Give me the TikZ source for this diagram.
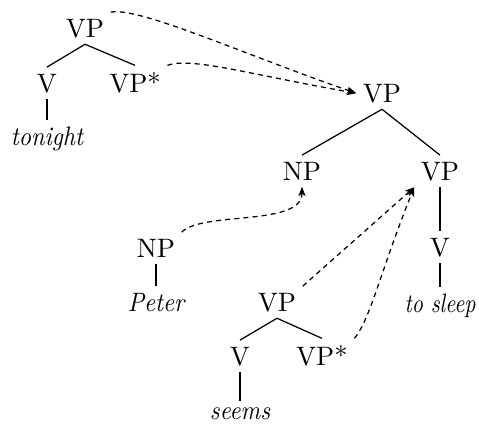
\documentclass[tikz,border=0pt]{standalone}
\usepackage{graphicx}
\usetikzlibrary{arrows.meta}
\tikzset{
  lab/.style={inner sep=2.2pt, anchor=base, font=\fontsize{9.6pt}{12pt}\selectfont},
  leaf/.style={lab, font=\fontsize{9.6pt}{12pt}\selectfont\itshape},
  edge/.style={line width=0.45pt},
  adj/.style={line width=0.45pt, dash pattern=on 1.8pt off 1.5pt,
    -{Stealth[length=3.4pt,width=2.6pt,inset=0.9pt]}}
}
\begin{document}
\begin{tikzpicture}[x=0.36pt,y=0.36pt]
\useasboundingbox (0,0) rectangle (479,-426);
% top-left auxiliary tree
\node[lab] (vpA) at (85,-37) {VP};
\node[lab] (vA) at (47,-92) {V};
\node[lab] (vpsA) at (135,-92) {VP*};
\node[leaf] (tonight) at (47,-145) {\scalebox{0.9}[1]{tonight}};
% main tree
\node[lab] (root) at (382,-102) {VP};
\node[lab] (np2) at (302,-180) {NP};
\node[lab] (vp2) at (440,-180) {VP};
\node[lab] (v3) at (440,-256) {V};
\node[leaf] (tosleep) at (440,-312) {\scalebox{0.82}[1]{to sleep}};
% NP tree
\node[lab] (np3) at (156,-257) {NP};
\node[leaf] (peter) at (156,-311) {\scalebox{0.9}[1]{Peter}};
% lower auxiliary tree
\node[lab] (vp4) at (277,-311) {VP};
\node[lab] (v4) at (240,-365) {V};
\node[lab] (vps4) at (322,-365) {VP*};
\node[leaf] (seems) at (240,-419) {\scalebox{0.9}[1]{seems}};
% tree edges
\draw[edge] (vpA.south) -- (vA.north);
\draw[edge] (vpA.south) -- (vpsA.north);
\draw[edge] (vA.south) -- (tonight.north);
\draw[edge] (root.south) -- (np2.north);
\draw[edge] (root.south) -- (vp2.north);
\draw[edge] (vp2.south) -- (v3.north);
\draw[edge] (v3.south) -- (tosleep.north);
\draw[edge] (np3.south) -- (peter.north);
\draw[edge] (vp4.south) -- (v4.north);
\draw[edge] (vp4.south) -- (vps4.north);
\draw[edge] (v4.south) -- (seems.north);
% adjunction / substitution arrows
\draw[adj] (vpA.north east) .. controls +(10:30) and +(161:120) .. (root.west);
\draw[adj] (vpsA.north east) .. controls +(20:25) and +(170:110) .. (root.west);
\draw[adj] (np3.north east) .. controls +(45:30) and +(-90:40) .. (np2.south);
\draw[adj] (vp4.north east) -- (vp2.south west);
\draw[adj] (vps4.north east) .. controls +(50:25) and +(248:90) .. (vp2.south west);
\end{tikzpicture}
\end{document}
